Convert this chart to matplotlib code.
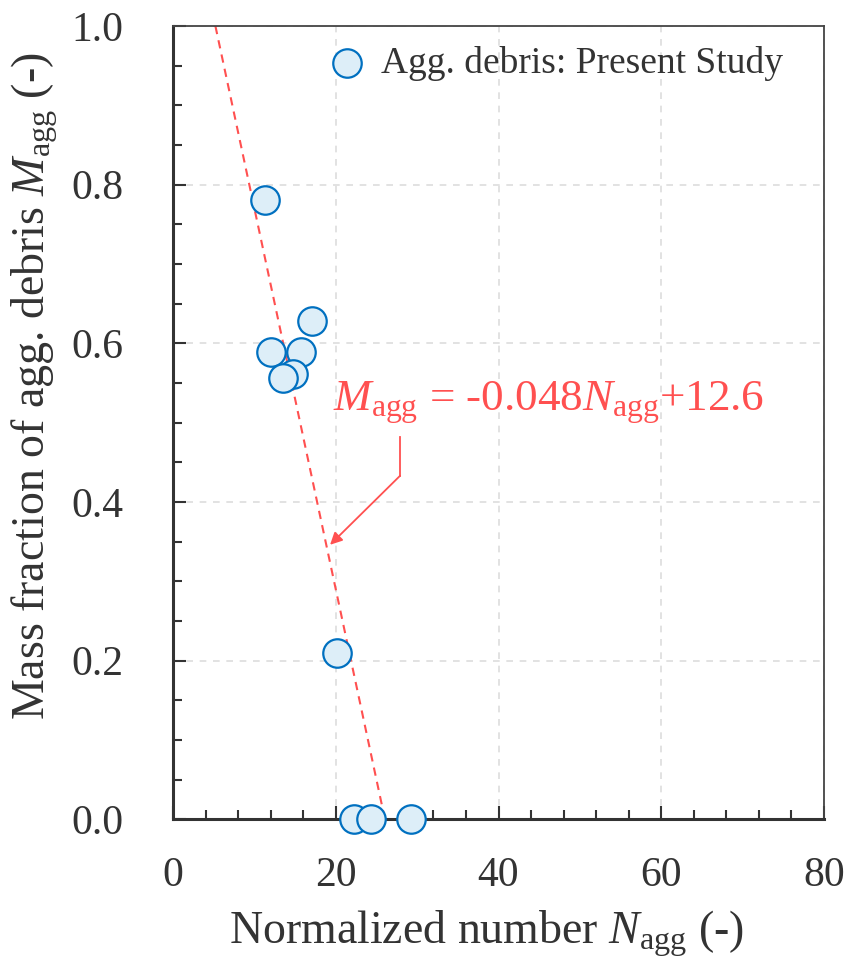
import matplotlib
matplotlib.use("Agg")
import matplotlib.pyplot as plt
import numpy as np
from matplotlib.ticker import MultipleLocator

plt.rcParams['font.family'] = ['Liberation Serif']
plt.rcParams['mathtext.fontset'] = 'custom'
plt.rcParams['mathtext.rm'] = 'Liberation Serif'
plt.rcParams['mathtext.it'] = 'Liberation Serif:italic'

# measured points
n_agg = [11.3, 17.1, 12.0, 15.7, 14.7, 13.5, 20.2, 22.3, 24.3, 29.2]
m_agg = [0.78, 0.628, 0.589, 0.589, 0.561, 0.556, 0.209, 0.0, 0.0, 0.0]

# fitted line (as drawn)
slope = -0.048
intercept = 1.25

txtc = '#333333'
red = '#FF5050'

fig = plt.figure(figsize=(8.46, 9.58), dpi=100)
ax = fig.add_axes([0.2045, 0.1448, 0.7695, 0.8281])

ax.grid(True, which='major', ls=(0, (4, 4)), color='#DDDDDD', lw=1.2, zorder=0)

# fit line between y=1 and y=0
xl = np.array([(1.0 - intercept) / slope, -intercept / slope])
ax.plot(xl, slope * xl + intercept, ls=(0, (4, 3)), color=red, lw=1.5, zorder=2)

ax.scatter(n_agg, m_agg, s=420, facecolor='#DDEEF8', edgecolor='#0070C0',
           linewidth=1.6, zorder=3, clip_on=False,
           label='Agg. debris: Present Study')

ax.annotate('', xy=(19.3, 0.346), xytext=(27.9, 0.433),
            arrowprops=dict(arrowstyle='-|>', color=red, lw=1.3,
                            mutation_scale=18, shrinkA=0, shrinkB=0))
ax.plot([27.9, 27.9], [0.433, 0.482], color=red, lw=1.3)
ax.text(19.6, 0.515, r'$M_{\mathrm{agg}}$ = -0.048$N_{\mathrm{agg}}$+12.6',
        color=red, fontsize=32.5, va='baseline', ha='left')

ax.set_xlim(0, 80)
ax.set_ylim(0, 1.0)
ax.xaxis.set_major_locator(MultipleLocator(20))
ax.xaxis.set_minor_locator(MultipleLocator(4))
ax.yaxis.set_major_locator(MultipleLocator(0.2))
ax.yaxis.set_minor_locator(MultipleLocator(0.05))
ax.set_yticks([0, 0.2, 0.4, 0.6, 0.8, 1.0])
ax.set_yticklabels(['0.0', '0.2', '0.4', '0.6', '0.8', '1.0'])

ax.tick_params(which='both', direction='in', colors='#333333', labelcolor=txtc,
               labelsize=30, width=1.5)
ax.tick_params(which='major', length=9.5)
ax.tick_params(which='minor', length=6.5)
ax.tick_params(axis='x', pad=27)
ax.tick_params(axis='y', pad=36)

for s in ['left', 'bottom']:
    ax.spines[s].set_linewidth(2.2)
    ax.spines[s].set_color('#333333')
for s in ['top', 'right']:
    ax.spines[s].set_linewidth(1.3)
    ax.spines[s].set_color('#444444')

ax.set_xlabel(r'Normalized number $N_{\mathrm{agg}}$ (-)', fontsize=33, color=txtc)
ax.set_ylabel(r'Mass fraction of agg. debris $M_{\mathrm{agg}}$ (-)', fontsize=33, color=txtc)
ax.xaxis.label.set_verticalalignment('baseline')
ax.yaxis.label.set_verticalalignment('baseline')
ax.xaxis.set_label_coords(0.481, -0.157)
ax.yaxis.set_label_coords(-0.1966, 0.5454)

leg = ax.legend(loc='upper right', bbox_to_anchor=(0.977, 1.008), frameon=False,
                fontsize=27, handlelength=1.0, handletextpad=0.4,
                borderaxespad=0.3, markerscale=1.0)
for t in leg.get_texts():
    t.set_color(txtc)

fig.savefig('out.png', dpi=100)
